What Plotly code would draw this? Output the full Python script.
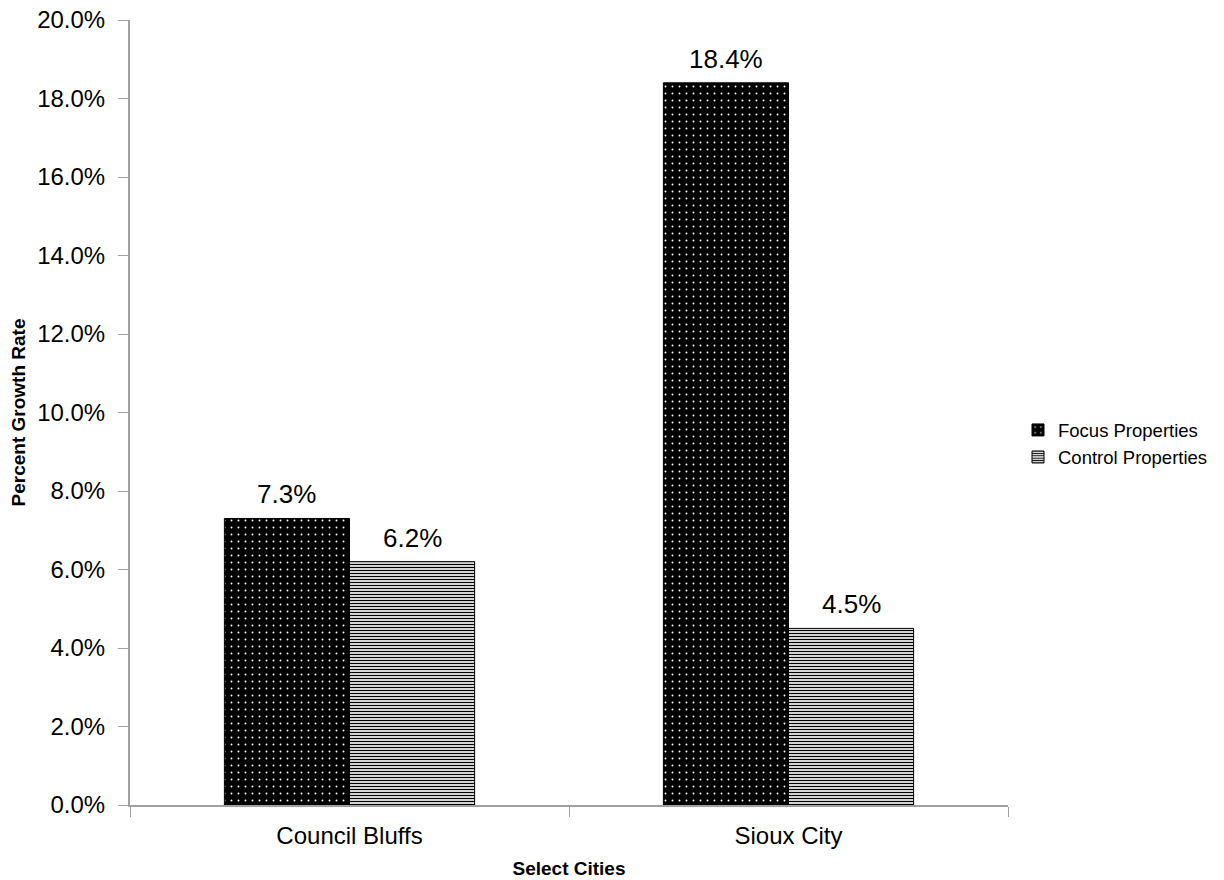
import plotly.graph_objects as go

cities = ["Council Bluffs", "Sioux City"]
focus = [7.3, 18.4]
control = [6.2, 4.5]
y_ticks = [0, 2, 4, 6, 8, 10, 12, 14, 16, 18, 20]

FONT = "Liberation Sans, Arial, sans-serif"
BARGAP = 0.43

fig = go.Figure()
fig.add_trace(go.Bar(
    name="Focus Properties", x=cities, y=focus,
    marker=dict(color="black", line=dict(color="black", width=1),
                pattern=dict(shape=".", fgcolor="white", bgcolor="black",
                             size=7, solidity=0.06, fillmode="replace")),
))
fig.add_trace(go.Bar(
    name="Control Properties", x=cities, y=control,
    marker=dict(color="white", line=dict(color="black", width=1),
                pattern=dict(shape="-", fgcolor="black", bgcolor="white",
                             size=3, solidity=0.45, fillmode="replace")),
))

# value labels above each bar, centred on the bar's slot within its group
offset = (1 - BARGAP) / 4
for series, sign in ((focus, -1), (control, 1)):
    for i, v in enumerate(series):
        fig.add_annotation(
            x=i + sign * offset, y=v, xref="x", yref="y",
            text=f"{v:.1f}%", showarrow=False,
            yanchor="bottom", yshift=7,
            font=dict(size=26, color="black", family=FONT),
        )

fig.update_layout(
    width=1224, height=880,
    margin=dict(l=130, r=216, t=20, b=75, autoexpand=False),
    paper_bgcolor="white", plot_bgcolor="white",
    barmode="group", bargap=BARGAP, bargroupgap=0,
    font=dict(family=FONT, size=24, color="black"),
    showlegend=True,
    legend=dict(x=1.0114, y=0.46, xanchor="left", yanchor="middle",
                font=dict(size=18.5, family=FONT), tracegroupgap=0,
                itemwidth=30),
)
fig.update_xaxes(
    showline=True, linecolor="#a0a0a0", linewidth=2,
    ticks="outside", tickson="boundaries", ticklen=10, tickcolor="#a0a0a0",
    tickfont=dict(size=24), ticklabelstandoff=8,
    title=dict(text="<b>Select Cities</b>", font=dict(size=19), standoff=14),
)
fig.update_yaxes(
    range=[0, 20], tickvals=y_ticks, ticktext=[f"{v:.1f}%" for v in y_ticks],
    showline=True, linecolor="#a0a0a0", linewidth=2,
    ticks="outside", ticklen=10, tickcolor="#a0a0a0",
    showgrid=False, zeroline=False,
    tickfont=dict(size=24), ticklabelstandoff=8,
    title=dict(text="<b>Percent Growth Rate</b>", font=dict(size=19), standoff=6),
)

fig.write_html("out.html")
